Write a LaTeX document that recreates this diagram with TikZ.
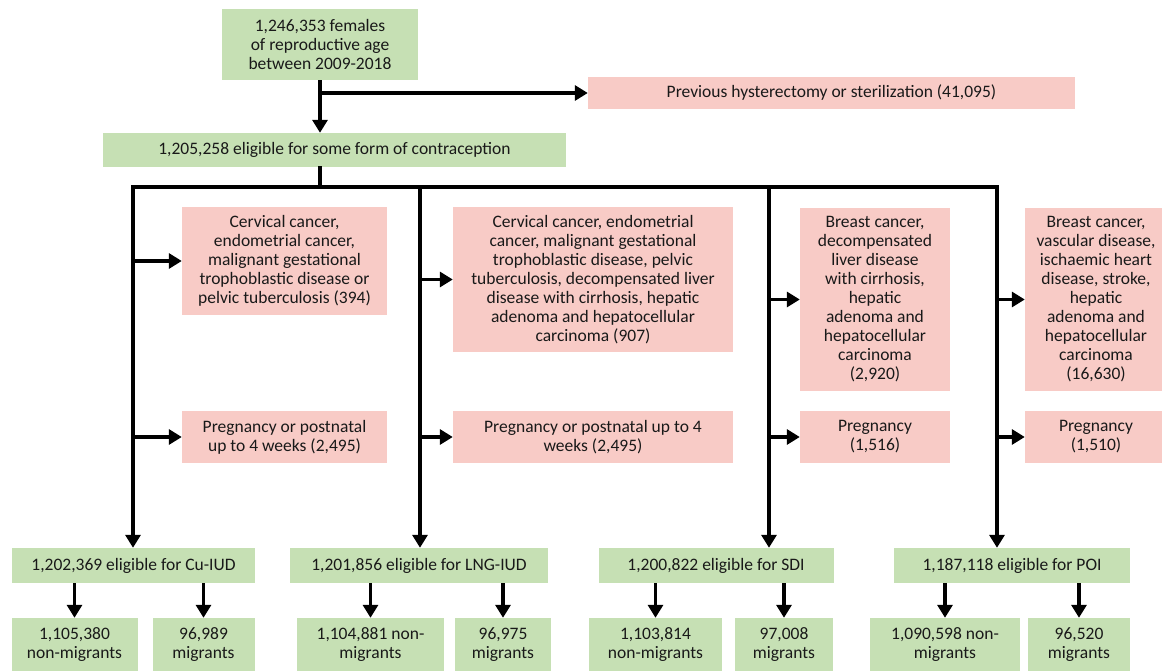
\documentclass[tikz,border=0pt]{standalone}
\usepackage{fontspec}
\setmainfont{Carlito}
\usetikzlibrary{arrows.meta}
\definecolor{boxgreen}{RGB}{198,224,180}
\definecolor{boxpink}{RGB}{248,203,198}

\tikzset{
    box/.style={align=center, inner sep=0pt, text=black!90, font=\fontsize{17.5}{19}\selectfont},
    greenbox/.style={box, fill=boxgreen},
    pinkbox/.style={box, fill=boxpink},
    bus/.style={line width=3.2pt, line cap=rect},
    flow/.style={line width=3.2pt, -{Triangle[length=13pt,width=15pt]}},
}

\begin{document}
\begin{tikzpicture}[x=1pt, y=-1pt]
    \useasboundingbox (0,0) rectangle (1162,671);

    \node[greenbox, minimum width=196pt, minimum height=71pt] (top) at (320,44.5) {1,246,353 females\\of reproductive age\\between 2009-2018};
    \node[pinkbox, minimum width=487pt, minimum height=32pt] (hyst) at (831.5,93) {Previous hysterectomy or sterilization (41,095)};
    \node[greenbox, minimum width=463pt, minimum height=34pt] (elig) at (334.5,150) {1,205,258 eligible for some form of contraception};

    \coordinate (busA) at (133,187);
    \coordinate (busB) at (420,187);
    \coordinate (busC) at (769,187);
    \coordinate (busD) at (997,187);

    \node[pinkbox, minimum width=205pt, minimum height=108pt] (exA1) at (284.5,261) {Cervical cancer,\\endometrial cancer,\\malignant gestational\\trophoblastic disease or\\pelvic tuberculosis (394)};
    \node[pinkbox, minimum width=205pt, minimum height=52pt] (exA2) at (284.5,437) {Pregnancy or postnatal\\up to 4 weeks (2,495)};
    \node[pinkbox, minimum width=280pt, minimum height=145pt] (exB1) at (593,279.5) {Cervical cancer, endometrial\\cancer, malignant gestational\\trophoblastic disease, pelvic\\tuberculosis, decompensated liver\\disease with cirrhosis, hepatic\\adenoma and hepatocellular\\carcinoma (907)};
    \node[pinkbox, minimum width=280pt, minimum height=52pt] (exB2) at (593,437) {Pregnancy or postnatal up to 4\\weeks (2,495)};
    \node[pinkbox, minimum width=150pt, minimum height=183pt] (exC1) at (875,299.5) {Breast cancer,\\decompensated\\liver disease\\with cirrhosis,\\hepatic\\adenoma and\\hepatocellular\\carcinoma\\(2,920)};
    \node[pinkbox, minimum width=150pt, minimum height=52pt] (exC2) at (875,437) {Pregnancy\\(1,516)};
    \node[pinkbox, minimum width=142pt, minimum height=183pt] (exD1) at (1096,299.5) {Breast cancer,\\vascular disease,\\ischaemic heart\\disease, stroke,\\hepatic\\adenoma and\\hepatocellular\\carcinoma\\(16,630)};
    \node[pinkbox, minimum width=142pt, minimum height=52pt] (exD2) at (1096,437) {Pregnancy\\(1,510)};

    \node[greenbox, minimum width=243pt, minimum height=35pt] (cu) at (133.5,565.5) {1,202,369 eligible for Cu-IUD};
    \node[greenbox, minimum width=258pt, minimum height=35pt] (lng) at (419,565.5) {1,201,856 eligible for LNG-IUD};
    \node[greenbox, minimum width=235pt, minimum height=35pt] (sdi) at (716,565.5) {1,200,822 eligible for SDI};
    \node[greenbox, minimum width=236pt, minimum height=35pt] (poi) at (1012,565.5) {1,187,118 eligible for POI};

    \node[greenbox, minimum width=126pt, minimum height=54pt] (cuN) at (74.5,645) {1,105,380\\non-migrants};
    \node[greenbox, minimum width=102pt, minimum height=54pt] (cuM) at (203.5,645) {96,989\\migrants};
    \node[greenbox, minimum width=147pt, minimum height=54pt] (lngN) at (370.5,645) {1,104,881 non-\\migrants};
    \node[greenbox, minimum width=96pt, minimum height=54pt] (lngM) at (503,645) {96,975\\migrants};
    \node[greenbox, minimum width=133pt, minimum height=54pt] (sdiN) at (655.5,645) {1,103,814\\non-migrants};
    \node[greenbox, minimum width=98pt, minimum height=54pt] (sdiM) at (784,645) {97,008\\migrants};
    \node[greenbox, minimum width=150pt, minimum height=54pt] (poiN) at (945,645) {1,090,598 non-\\migrants};
    \node[greenbox, minimum width=102pt, minimum height=54pt] (poiM) at (1079,645) {96,520\\migrants};

    \draw[flow] (top.south) -- (top.south |- elig.north);
    \draw[flow] (top.south |- hyst.west) -- (hyst.west);
    \draw[bus] (top.south |- elig.south) -- (top.south |- busA);
    \draw[bus] (busA) -- (busD);

    \draw[flow] (busA) -- (busA |- cu.north);
    \draw[flow] (busB) -- (busB |- lng.north);
    \draw[flow] (busC) -- (busC |- sdi.north);
    \draw[flow] (busD) -- (busD |- poi.north);

    \draw[flow] (busA |- exA1.west) -- (exA1.west);
    \draw[flow] (busA |- exA2.west) -- (exA2.west);
    \draw[flow] (busB |- exB1.west) -- (exB1.west);
    \draw[flow] (busB |- exB2.west) -- (exB2.west);
    \draw[flow] (busC |- exC1.west) -- (exC1.west);
    \draw[flow] (busC |- exC2.west) -- (exC2.west);
    \draw[flow] (busD |- exD1.west) -- (exD1.west);
    \draw[flow] (busD |- exD2.west) -- (exD2.west);

    \draw[flow] (cuN.north |- cu.south) -- (cuN.north);
    \draw[flow] (cuM.north |- cu.south) -- (cuM.north);
    \draw[flow] (lngN.north |- lng.south) -- (lngN.north);
    \draw[flow] (lngM.north |- lng.south) -- (lngM.north);
    \draw[flow] (sdiN.north |- sdi.south) -- (sdiN.north);
    \draw[flow] (sdiM.north |- sdi.south) -- (sdiM.north);
    \draw[flow] (poiN.north |- poi.south) -- (poiN.north);
    \draw[flow] (poiM.north |- poi.south) -- (poiM.north);
\end{tikzpicture}
\end{document}
